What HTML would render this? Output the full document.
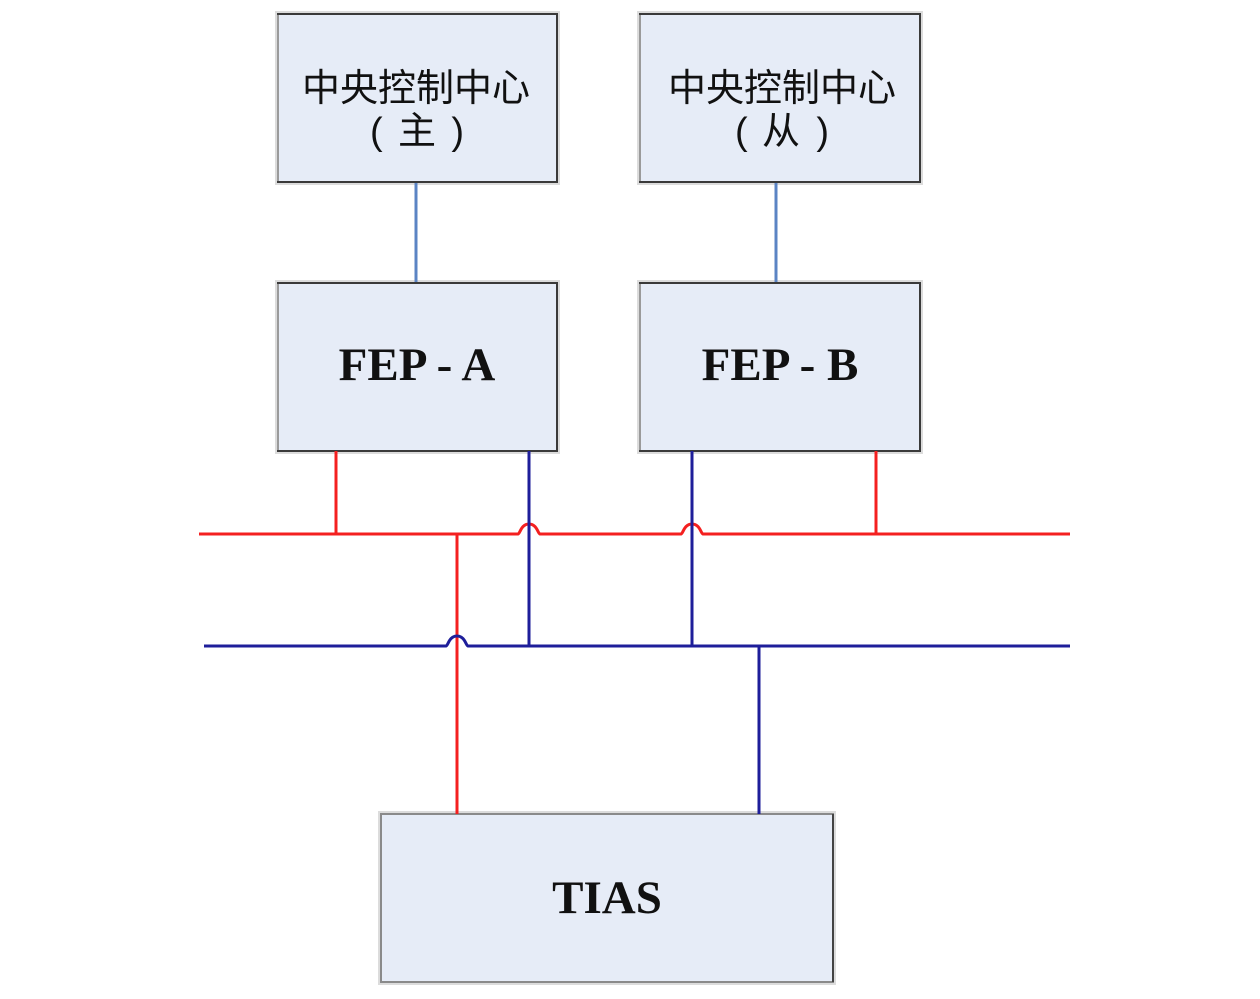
<!DOCTYPE html>
<html>
<head>
<meta charset="utf-8">
<style>
  html, body { margin:0; padding:0; background:#ffffff; }
  body { width:1260px; height:999px; overflow:hidden; }
  svg { display:block; }
  .cn { font-family:"Liberation Sans","Noto Sans CJK SC",sans-serif; font-size:38px; fill:#111; }
  .pa { font-family:"Liberation Sans",sans-serif; font-size:38px; fill:#111; }
  .en { font-family:"Liberation Serif","DejaVu Serif",serif; font-size:47px; font-weight:bold; fill:#111; }
</style>
</head>
<body>
<svg width="1260" height="999" viewBox="0 0 1260 999" xmlns="http://www.w3.org/2000/svg">
  <!-- light shadows -->
  <g fill="none" stroke="#dcdcdc" stroke-width="2">
    <rect x="276" y="12" width="283" height="172"/>
    <rect x="638" y="12" width="284" height="172"/>
    <rect x="276" y="281" width="283" height="172"/>
    <rect x="638" y="281" width="284" height="172"/>
    <rect x="379" y="812" width="456" height="172"/>
  </g>

  <!-- boxes -->
  <g fill="#E6ECF7" stroke="#3a3a3a" stroke-width="2">
    <rect x="278" y="14" width="279" height="168"/>
    <rect x="640" y="14" width="280" height="168"/>
    <rect x="278" y="283" width="279" height="168"/>
    <rect x="640" y="283" width="280" height="168"/>
  </g>
  <rect x="381" y="814" width="452" height="168" fill="#E6ECF7" stroke="#8a8a8a" stroke-width="2"/>
  <line x1="833" y1="814" x2="833" y2="982" stroke="#444" stroke-width="2"/>
  <!-- lighter left edges -->
  <g stroke="#9a9a9a" stroke-width="2">
    <line x1="278" y1="15" x2="278" y2="181"/>
    <line x1="640" y1="15" x2="640" y2="181"/>
    <line x1="278" y1="284" x2="278" y2="450"/>
    <line x1="640" y1="284" x2="640" y2="450"/>
  </g>

  <!-- light blue connectors -->
  <g stroke="#5B84C4" stroke-width="3">
    <line x1="416" y1="183" x2="416" y2="282"/>
    <line x1="776" y1="183" x2="776" y2="282"/>
  </g>

  <!-- red network -->
  <g stroke="#F42020" stroke-width="3" fill="none">
    <path d="M199 534 H518 C520 534 521 524 529 524 C537 524 538 534 540 534 H681 C683 534 684 524 692 524 C700 524 701 534 703 534 H1070"/>
    <line x1="336" y1="451" x2="336" y2="534"/>
    <line x1="876" y1="451" x2="876" y2="534"/>
    <line x1="457" y1="534" x2="457" y2="814"/>
  </g>

  <!-- blue network -->
  <g stroke="#1E1E9A" stroke-width="3" fill="none">
    <path d="M204 646 H446 C448 646 449 636 457 636 C465 636 466 646 468 646 H1070"/>
    <line x1="529" y1="451" x2="529" y2="646"/>
    <line x1="692" y1="451" x2="692" y2="646"/>
    <line x1="759" y1="646" x2="759" y2="814"/>
  </g>

  <!-- text -->
  <text class="cn" x="416" y="101" text-anchor="middle">中央控制中心</text>
  <text class="pa" x="370" y="144">(</text>
  <text class="cn" x="417" y="144" text-anchor="middle">主</text>
  <text class="pa" x="464" y="144" text-anchor="end">)</text>

  <text class="cn" x="782" y="101" text-anchor="middle">中央控制中心</text>
  <text class="pa" x="735" y="144">(</text>
  <text class="cn" x="781" y="144" text-anchor="middle">从</text>
  <text class="pa" x="829" y="144" text-anchor="end">)</text>

  <text class="en" x="417" y="380" text-anchor="middle">FEP - A</text>
  <text class="en" x="780" y="380" text-anchor="middle">FEP - B</text>
  <text class="en" x="607" y="913" text-anchor="middle">TIAS</text>
</svg>
</body>
</html>
